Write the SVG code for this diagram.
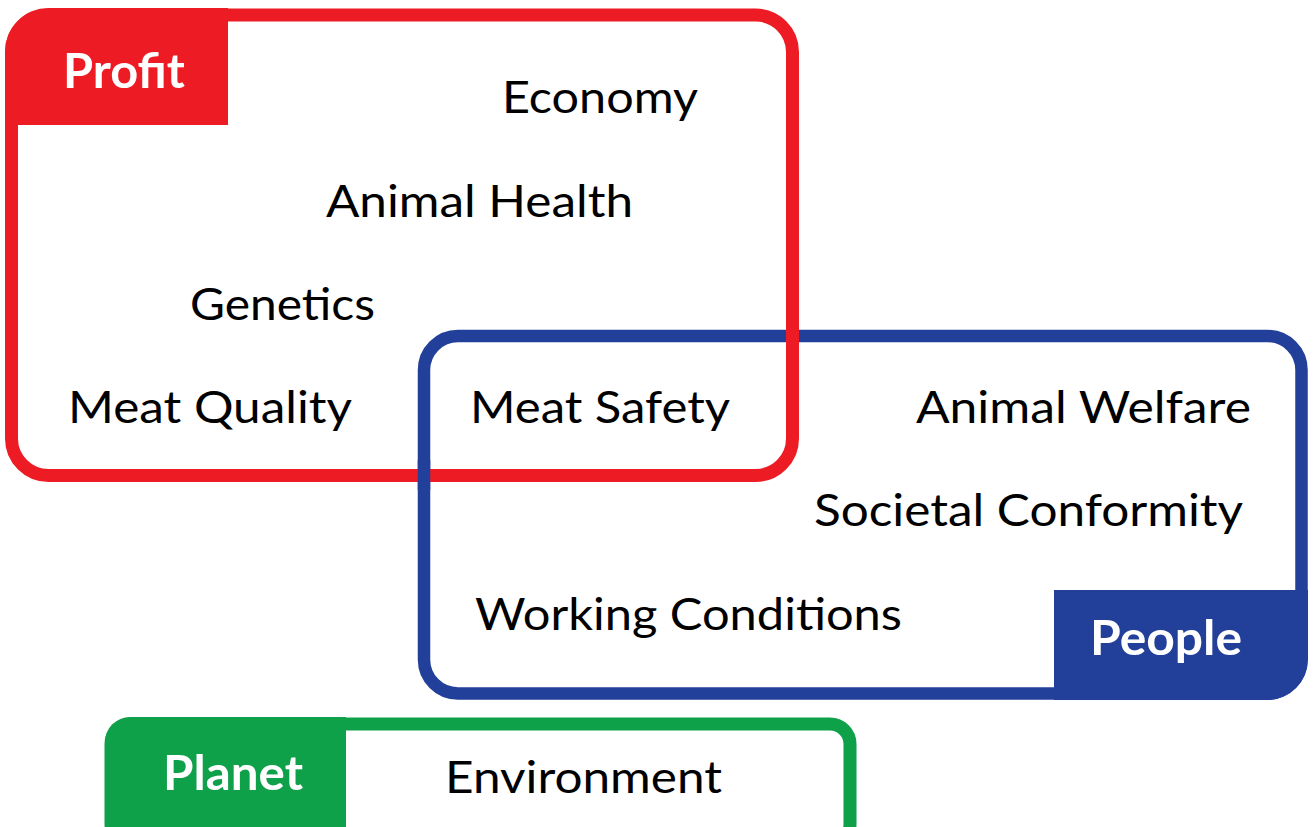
<svg xmlns="http://www.w3.org/2000/svg" width="1314" height="827" viewBox="0 0 1314 827">
<style>
.t{font-family:Lato,"Open Sans","Liberation Sans",sans-serif;font-size:45px;fill:#000}
.h{font-family:Lato,"Open Sans","Liberation Sans",sans-serif;font-size:48px;font-weight:bold;fill:#fff}
.box{fill:none}
</style>
<rect width="1314" height="827" fill="#fff"/>
<g id="planet">
<path d="M105,840 L105,742 A25,25 0 0 1 130,717 L346,717 L346,840 Z" fill="#0FA04A"/>
<rect x="111" y="724" width="739" height="120" rx="20" class="box" stroke="#0FA04A" stroke-width="13"/>
<text class="h" x="163" y="790" textLength="140" lengthAdjust="spacingAndGlyphs">Planet</text>
<text class="t" x="445" y="793" textLength="277" lengthAdjust="spacingAndGlyphs">Environment</text>
</g>
<g id="people">
<rect x="424" y="336" width="877.5" height="357.5" rx="34" class="box" stroke="#22409A" stroke-width="12.5"/>
<path d="M1054,590 L1308,590 L1308,659 A41,41 0 0 1 1267,700 L1054,700 Z" fill="#22409A"/>
<text class="h" x="1090" y="655" textLength="152" lengthAdjust="spacingAndGlyphs">People</text>
<text class="t" x="916" y="423" textLength="335" lengthAdjust="spacingAndGlyphs">Animal Welfare</text>
<text class="t" x="814" y="526" textLength="429" lengthAdjust="spacingAndGlyphs">Societal Conformity</text>
<text class="t" x="475" y="630" textLength="427" lengthAdjust="spacingAndGlyphs">Working Conditions</text>
</g>
<g id="profit">
<rect x="11.5" y="15" width="781" height="460.5" rx="37" class="box" stroke="#ED1C24" stroke-width="13"/>
<path d="M5,125 L5,51.5 A43.5,43.5 0 0 1 48.5,8 L228,8 L228,125 Z" fill="#ED1C24"/>
<text class="h" x="63" y="88" textLength="122" lengthAdjust="spacingAndGlyphs">Profit</text>
<text class="t" x="502" y="113" textLength="196" lengthAdjust="spacingAndGlyphs">Economy</text>
<text class="t" x="326" y="217" textLength="307" lengthAdjust="spacingAndGlyphs">Animal Health</text>
<text class="t" x="190" y="320" textLength="185" lengthAdjust="spacingAndGlyphs">Genetics</text>
<text class="t" x="68" y="423" textLength="284" lengthAdjust="spacingAndGlyphs">Meat Quality</text>
<text class="t" x="470" y="423" textLength="260" lengthAdjust="spacingAndGlyphs">Meat Safety</text>
</g>
<g id="connectors">
<line x1="424" y1="460" x2="424" y2="490" stroke="#22409A" stroke-width="12.5"/>
</g>
</svg>
